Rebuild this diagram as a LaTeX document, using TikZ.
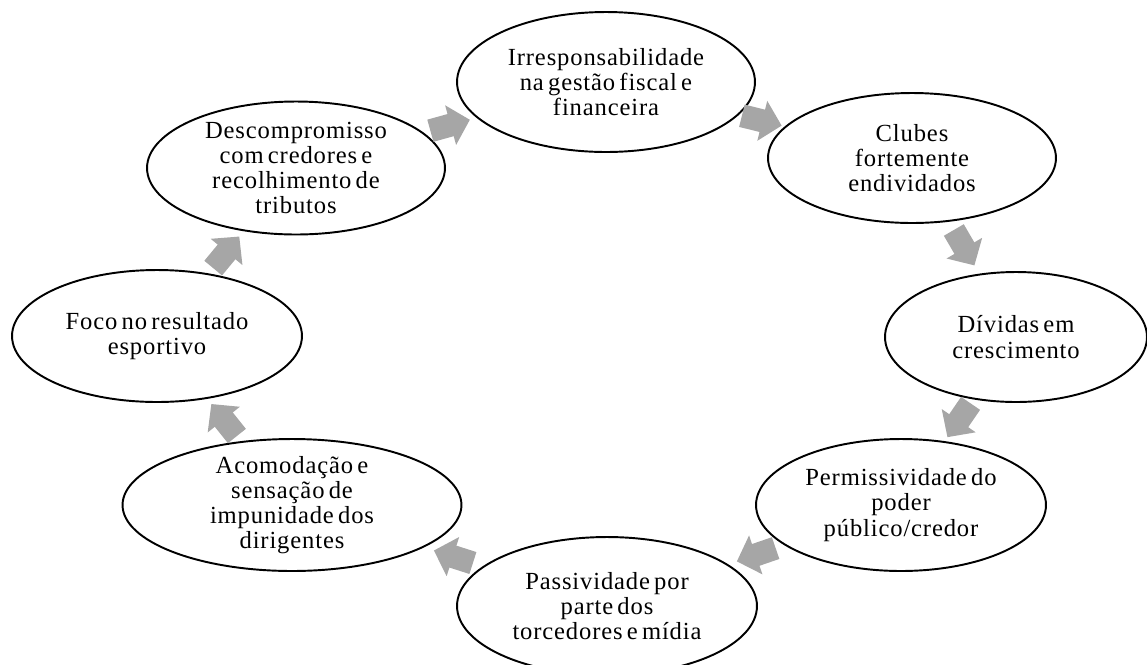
\documentclass[tikz,border=0pt]{standalone}
\usepackage{fontspec}
\setmainfont{Liberation Serif}[LetterSpace=3.5,WordSpace=0.6]
\usetikzlibrary{shapes.geometric,arrows.meta,calc}
\definecolor{arrowgray}{RGB}{166,166,166}

\begin{document}
\begin{tikzpicture}[x=0.02cm,y=-0.02cm,every node/.style={ellipse, draw=black, line width=1.1pt, fill=white, align=center, inner sep=-10pt, outer sep=0pt, font=\fontsize{14}{14.3}\selectfont}, cyc/.style={line width=0.46cm, draw=arrowgray, -{Triangle[length=0.4cm,width=0.8cm]}}]
\useasboundingbox (0,0) rectangle (1147,664);

\node[minimum width=5.96cm, minimum height=2.8cm] (irr) at (606,82) {Irresponsabilidade\\na gestão fiscal e\\financeira};
\node[minimum width=5.76cm, minimum height=2.6cm] (clu) at (912,158) {Clubes\\fortemente\\endividados};
\node[minimum width=5.24cm, minimum height=2.6cm] (div) at (1016,337) {Dívidas em\\crescimento};
\node[minimum width=5.8cm, minimum height=2.64cm] (per) at (901,505) {Permissividade do\\poder\\público/credor};
\node[minimum width=6.0cm, minimum height=2.76cm] (pas) at (607,606) {Passividade por\\parte dos\\torcedores e mídia};
\node[minimum width=6.78cm, minimum height=2.64cm] (aco) at (292,505) {Acomodação e\\sensação de\\impunidade dos\\dirigentes};
\node[minimum width=5.8cm, minimum height=2.64cm] (foc) at (157,336) {Foco no resultado\\esportivo};
\node[minimum width=5.96cm, minimum height=2.66cm] (des) at (296,168) {Descompromisso\\com credores e\\recolhimento de\\tributos};

% gap midpoints
\path (des) -- (irr) coordinate[midway] (m1);
\path (irr) -- (clu) coordinate[midway] (m2);
\path (clu) -- (div) coordinate[midway] (m3);
\path (div) -- (per) coordinate[midway] (m4);
\path (per) -- (pas) coordinate[midway] (m5);
\path (pas) -- (aco) coordinate[midway] (m6);
\path (aco) -- (foc) coordinate[midway] (m7);
\path (foc) -- (des) coordinate[midway] (m8);

\draw[cyc] ($(m1)!0.41cm!(des)$) -- ($(m1)!0.41cm!(irr)$);
\draw[cyc] ($(m2)!0.41cm!(irr)$) -- ($(m2)!0.41cm!(clu)$);
\draw[cyc] ($(m3)!0.41cm!(clu)$) -- ($(m3)!0.41cm!(div)$);
\draw[cyc] ($(m4)!0.41cm!(div)$) -- ($(m4)!0.41cm!(per)$);
\draw[cyc] ($(m5)!0.41cm!(per)$) -- ($(m5)!0.41cm!(pas)$);
\draw[cyc] ($(m6)!0.41cm!(pas)$) -- ($(m6)!0.41cm!(aco)$);
\draw[cyc] ($(m7)!0.41cm!(aco)$) -- ($(m7)!0.41cm!(foc)$);
\draw[cyc] ($(m8)!0.41cm!(foc)$) -- ($(m8)!0.41cm!(des)$);
\end{tikzpicture}
\end{document}
